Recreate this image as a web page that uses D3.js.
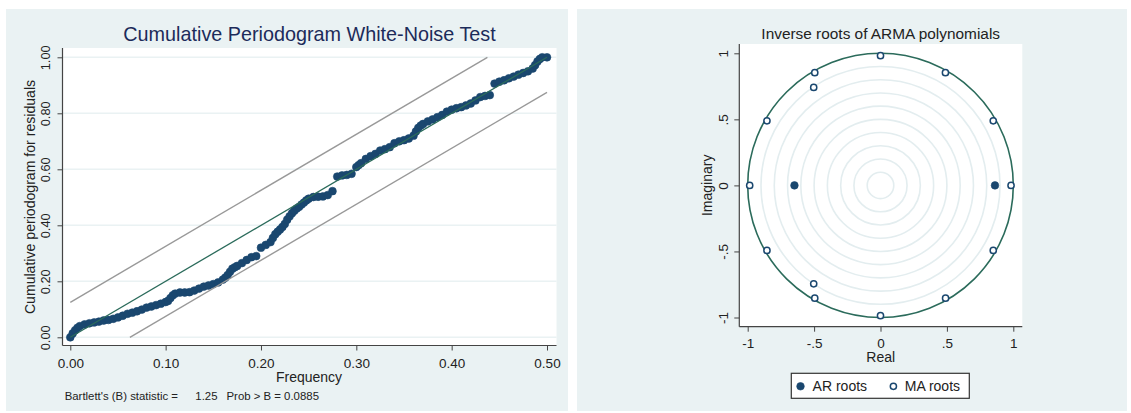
<!DOCTYPE html>
<html>
<head>
<meta charset="utf-8">
<script src="https://cdn.jsdelivr.net/npm/d3@7"></script>
<style>
  html, body { margin: 0; padding: 0; background: #fff; }
  svg { display: block; font-family: "Liberation Sans", Arial, sans-serif; }
</style>
</head>
<body>
<div id="chart"></div>
<script>
// ---- data ----
// cumulative periodogram: [frequency, cumulative value]
const periodogram = [
  [0.000, 0.000], [0.0025, 0.014], [0.005, 0.025], [0.0075, 0.034], [0.010, 0.040],
  [0.015, 0.046], [0.020, 0.050], [0.025, 0.053], [0.030, 0.056], [0.035, 0.060],
  [0.040, 0.062], [0.045, 0.066], [0.050, 0.071], [0.055, 0.077], [0.060, 0.084],
  [0.065, 0.088], [0.070, 0.093], [0.075, 0.099], [0.080, 0.106], [0.085, 0.110],
  [0.090, 0.115], [0.095, 0.120], [0.100, 0.126], [0.1025, 0.130], [0.105, 0.140],
  [0.1075, 0.150], [0.110, 0.156], [0.115, 0.160], [0.120, 0.160], [0.125, 0.161],
  [0.130, 0.167], [0.135, 0.174], [0.140, 0.181], [0.145, 0.185], [0.150, 0.190],
  [0.155, 0.196], [0.160, 0.206], [0.1625, 0.213], [0.165, 0.222], [0.1675, 0.234],
  [0.170, 0.245], [0.1725, 0.250], [0.175, 0.255], [0.180, 0.265], [0.185, 0.276],
  [0.190, 0.286], [0.195, 0.290], [0.200, 0.320], [0.205, 0.330], [0.210, 0.340],
  [0.2125, 0.355], [0.215, 0.368], [0.2175, 0.377], [0.220, 0.385], [0.2225, 0.394],
  [0.225, 0.405], [0.2275, 0.420], [0.230, 0.432], [0.2325, 0.443], [0.235, 0.452],
  [0.2375, 0.460], [0.240, 0.466], [0.2425, 0.474], [0.245, 0.481], [0.2475, 0.489],
  [0.250, 0.495], [0.255, 0.501], [0.260, 0.502], [0.265, 0.503], [0.270, 0.508],
  [0.275, 0.522], [0.280, 0.574], [0.285, 0.578], [0.290, 0.580], [0.295, 0.584],
  [0.300, 0.608], [0.3025, 0.615], [0.305, 0.622], [0.310, 0.637], [0.315, 0.647],
  [0.320, 0.655], [0.325, 0.667], [0.330, 0.672], [0.335, 0.679], [0.340, 0.693],
  [0.345, 0.700], [0.350, 0.704], [0.355, 0.710], [0.360, 0.720], [0.3625, 0.735],
  [0.365, 0.748], [0.3675, 0.756], [0.370, 0.762], [0.375, 0.771], [0.380, 0.778],
  [0.385, 0.786], [0.390, 0.794], [0.395, 0.806], [0.400, 0.813], [0.405, 0.818],
  [0.410, 0.822], [0.415, 0.828], [0.420, 0.835], [0.425, 0.846], [0.430, 0.858],
  [0.435, 0.862], [0.440, 0.865], [0.445, 0.906], [0.450, 0.913], [0.455, 0.918],
  [0.460, 0.925], [0.465, 0.931], [0.470, 0.938], [0.475, 0.944], [0.480, 0.950],
  [0.485, 0.960], [0.4875, 0.972], [0.490, 0.985], [0.4925, 0.994], [0.495, 1.000],
  [0.500, 1.000]
];
const diagonal = [[0, 0], [0.5, 1]];
const bandUpper = [[0, 0.125], [0.4375, 1]];
const bandLower = [[0.0625, 0], [0.5, 0.875]];
const cpXTicks = [0, 0.1, 0.2, 0.3, 0.4, 0.5];
const cpYTicks = [0, 0.2, 0.4, 0.6, 0.8, 1.0];

// inverse roots: [real, imaginary]
const arRoots = [[-0.648, 0], [0.862, 0]];
const maRoots = [
  [0.000, 0.982], [-0.495, 0.853], [-0.503, 0.742], [-0.855, 0.489], [-0.985, 0.000],
  [-0.855, -0.492], [-0.503, -0.745], [-0.495, -0.854], [0.000, -0.986],
  [0.490, -0.854], [0.849, -0.492], [0.983, 0.000], [0.849, 0.489], [0.489, 0.853]
];
const rootTicks = [-1, -0.5, 0, 0.5, 1];
const rootTickLabels = ['-1', '-.5', '0', '.5', '1'];
const ringRadii = [0.1, 0.2, 0.3, 0.4, 0.5, 0.6, 0.7, 0.8, 0.9];

const NAVY = '#1a476f';
const GREEN = '#2b6b5b';
const PANEL = '#eaf2f3';
const AXIS = '#444';
const INK = '#222';

const svg = d3.select('#chart').append('svg')
  .attr('width', 1131).attr('height', 413);

// ================= left: cumulative periodogram =================
(function () {
  const box = { left: 62.5, right: 556.5, top: 48, bottom: 345.5 };
  svg.append('rect').attr('x', 6).attr('y', 9).attr('width', 562).attr('height', 402).attr('fill', PANEL);
  svg.append('rect')
    .attr('x', box.left).attr('y', box.top)
    .attr('width', box.right - box.left).attr('height', box.bottom - box.top)
    .attr('fill', '#fff');

  const x = d3.scaleLinear().domain([0, 0.5]).range([70.3, 547]);
  const y = d3.scaleLinear().domain([0, 1]).range([337.3, 57.3]);

  // horizontal gridlines
  svg.append('g').selectAll('line').data(cpYTicks).enter().append('line')
    .attr('x1', box.left).attr('x2', box.right)
    .attr('y1', d => y(d)).attr('y2', d => y(d))
    .attr('stroke', PANEL).attr('stroke-width', 1.5);

  const line = d3.line().x(d => x(d[0])).y(d => y(d[1]));

  // markers
  svg.append('g').selectAll('circle').data(periodogram).enter().append('circle')
    .attr('cx', d => x(d[0])).attr('cy', d => y(d[1]))
    .attr('r', 3.9)
    .attr('fill', NAVY).attr('stroke', NAVY).attr('stroke-width', 0.6);

  [bandUpper, bandLower].forEach(b => {
    svg.append('path').attr('d', line(b))
      .attr('fill', 'none').attr('stroke', '#999').attr('stroke-width', 1.4);
  });
  svg.append('path').attr('d', line(diagonal))
    .attr('fill', 'none').attr('stroke', GREEN).attr('stroke-width', 1.3);

  // axes
  const gx = svg.append('g').attr('transform', `translate(0,${box.bottom})`)
    .call(d3.axisBottom(x).tickValues(cpXTicks).tickFormat(d3.format('.2f')).tickSize(5).tickSizeOuter(0));
  gx.select('.domain').remove();
  gx.selectAll('line').attr('stroke', AXIS);
  gx.selectAll('text').attr('y', 17.8).attr('dy', '0.36em')
    .style('font-size', '13.5px').style('fill', INK);

  const gy = svg.append('g').attr('transform', `translate(${box.left},0)`)
    .call(d3.axisLeft(y).tickValues(cpYTicks).tickFormat(d3.format('.2f')).tickSize(5).tickSizeOuter(0));
  gy.select('.domain').remove();
  gy.selectAll('line').attr('stroke', AXIS);
  gy.selectAll('text')
    .attr('transform', 'rotate(-90)')
    .attr('x', 0).attr('y', -17.3).attr('dy', '0.35em')
    .attr('text-anchor', 'middle')
    .style('font-size', '12.8px').style('fill', INK);

  svg.append('line').attr('x1', box.left).attr('x2', box.right)
    .attr('y1', box.bottom).attr('y2', box.bottom).attr('stroke', AXIS).attr('stroke-width', 1.2);
  svg.append('line').attr('x1', box.left).attr('x2', box.left)
    .attr('y1', box.top).attr('y2', box.bottom).attr('stroke', AXIS).attr('stroke-width', 1.2);

  // titles
  svg.append('text').attr('x', 309.5).attr('y', 41.4).attr('text-anchor', 'middle')
    .style('font-size', '19.8px').style('fill', '#1c2b5a')
    .text('Cumulative Periodogram White-Noise Test');
  svg.append('text').attr('x', 309).attr('y', 382.2).attr('text-anchor', 'middle')
    .style('font-size', '14px').style('fill', INK).text('Frequency');
  svg.append('text').attr('transform', 'translate(30,197) rotate(-90)')
    .attr('dy', '0.35em').attr('text-anchor', 'middle')
    .style('font-size', '14.1px').style('fill', INK)
    .text('Cumulative periodogram for residuals');

  // note
  const note = svg.append('g').style('font-size', '11.4px').style('fill', INK);
  note.append('text').attr('x', 64.7).attr('y', 399.8).text("Bartlett's (B) statistic =");
  note.append('text').attr('x', 195.3).attr('y', 399.8).text('1.25');
  note.append('text').attr('x', 226.5).attr('y', 399.8).text('Prob > B = 0.0885');
})();

// ================= right: inverse roots =================
(function () {
  const box = { left: 739.3, right: 1022.3, top: 44, bottom: 326.7 };
  svg.append('rect').attr('x', 577).attr('y', 9).attr('width', 550).attr('height', 402).attr('fill', PANEL);
  svg.append('rect')
    .attr('x', box.left).attr('y', box.top)
    .attr('width', box.right - box.left).attr('height', box.bottom - box.top)
    .attr('fill', '#fff');

  const x = d3.scaleLinear().domain([-1, 1]).range([747.7, 1013.3]);
  const y = d3.scaleLinear().domain([-1, 1]).range([317.5, 53.3]);

  // concentric reference rings
  svg.append('g').selectAll('ellipse').data(ringRadii).enter().append('ellipse')
    .attr('cx', x(0)).attr('cy', y(0))
    .attr('rx', d => x(d) - x(0)).attr('ry', d => y(0) - y(d))
    .attr('fill', 'none').attr('stroke', '#e3edef').attr('stroke-width', 1.6);

  // unit circle
  svg.append('ellipse')
    .attr('cx', x(0)).attr('cy', y(0))
    .attr('rx', x(1) - x(0)).attr('ry', y(0) - y(1))
    .attr('fill', 'none').attr('stroke', GREEN).attr('stroke-width', 1.6);

  svg.append('g').selectAll('circle').data(arRoots).enter().append('circle')
    .attr('cx', d => x(d[0])).attr('cy', d => y(d[1])).attr('r', 3.8)
    .attr('fill', NAVY).attr('stroke', NAVY).attr('stroke-width', 0.6);
  svg.append('g').selectAll('circle').data(maRoots).enter().append('circle')
    .attr('cx', d => x(d[0])).attr('cy', d => y(d[1])).attr('r', 3.1)
    .attr('fill', '#fff').attr('stroke', NAVY).attr('stroke-width', 1.5);

  const fmt = d => rootTickLabels[rootTicks.indexOf(d)];
  const gx = svg.append('g').attr('transform', `translate(0,${box.bottom})`)
    .call(d3.axisBottom(x).tickValues(rootTicks).tickFormat(fmt).tickSize(5).tickSizeOuter(0));
  gx.select('.domain').remove();
  gx.selectAll('line').attr('stroke', AXIS);
  gx.selectAll('text').attr('y', 16.3).attr('dy', '0.36em')
    .style('font-size', '13.5px').style('fill', INK);

  const gy = svg.append('g').attr('transform', `translate(${box.left},0)`)
    .call(d3.axisLeft(y).tickValues(rootTicks).tickFormat(fmt).tickSize(5).tickSizeOuter(0));
  gy.select('.domain').remove();
  gy.selectAll('line').attr('stroke', AXIS);
  gy.selectAll('text')
    .attr('transform', 'rotate(-90)')
    .attr('x', 0).attr('y', -16).attr('dy', '0.35em')
    .attr('text-anchor', 'middle')
    .style('font-size', '13.5px').style('fill', INK);

  svg.append('line').attr('x1', box.left).attr('x2', box.right)
    .attr('y1', box.bottom).attr('y2', box.bottom).attr('stroke', AXIS).attr('stroke-width', 1.2);
  svg.append('line').attr('x1', box.left).attr('x2', box.left)
    .attr('y1', box.top).attr('y2', box.bottom).attr('stroke', AXIS).attr('stroke-width', 1.2);

  svg.append('text').attr('x', 880.7).attr('y', 38.9).attr('text-anchor', 'middle')
    .style('font-size', '15.4px').style('fill', INK).text('Inverse roots of ARMA polynomials');
  svg.append('text').attr('x', 880.7).attr('y', 362.3).attr('text-anchor', 'middle')
    .style('font-size', '14px').style('fill', INK).text('Real');
  svg.append('text').attr('transform', 'translate(707,185.3) rotate(-90)')
    .attr('dy', '0.35em').attr('text-anchor', 'middle')
    .style('font-size', '14px').style('fill', INK).text('Imaginary');

  // legend
  const lg = svg.append('g');
  lg.append('rect').attr('x', 791.3).attr('y', 373.3).attr('width', 178).attr('height', 25)
    .attr('fill', '#fff').attr('stroke', '#333').attr('stroke-width', 1.2);
  lg.append('circle').attr('cx', 800.5).attr('cy', 386.3).attr('r', 3.8)
    .attr('fill', NAVY).attr('stroke', NAVY).attr('stroke-width', 0.6);
  lg.append('text').attr('x', 812.6).attr('y', 391.3)
    .style('font-size', '14px').style('fill', INK).text('AR roots');
  lg.append('circle').attr('cx', 893.4).attr('cy', 386.3).attr('r', 3.1)
    .attr('fill', '#fff').attr('stroke', NAVY).attr('stroke-width', 1.5);
  lg.append('text').attr('x', 904.8).attr('y', 391.3)
    .style('font-size', '14px').style('fill', INK).text('MA roots');
})();
</script>
</body>
</html>
